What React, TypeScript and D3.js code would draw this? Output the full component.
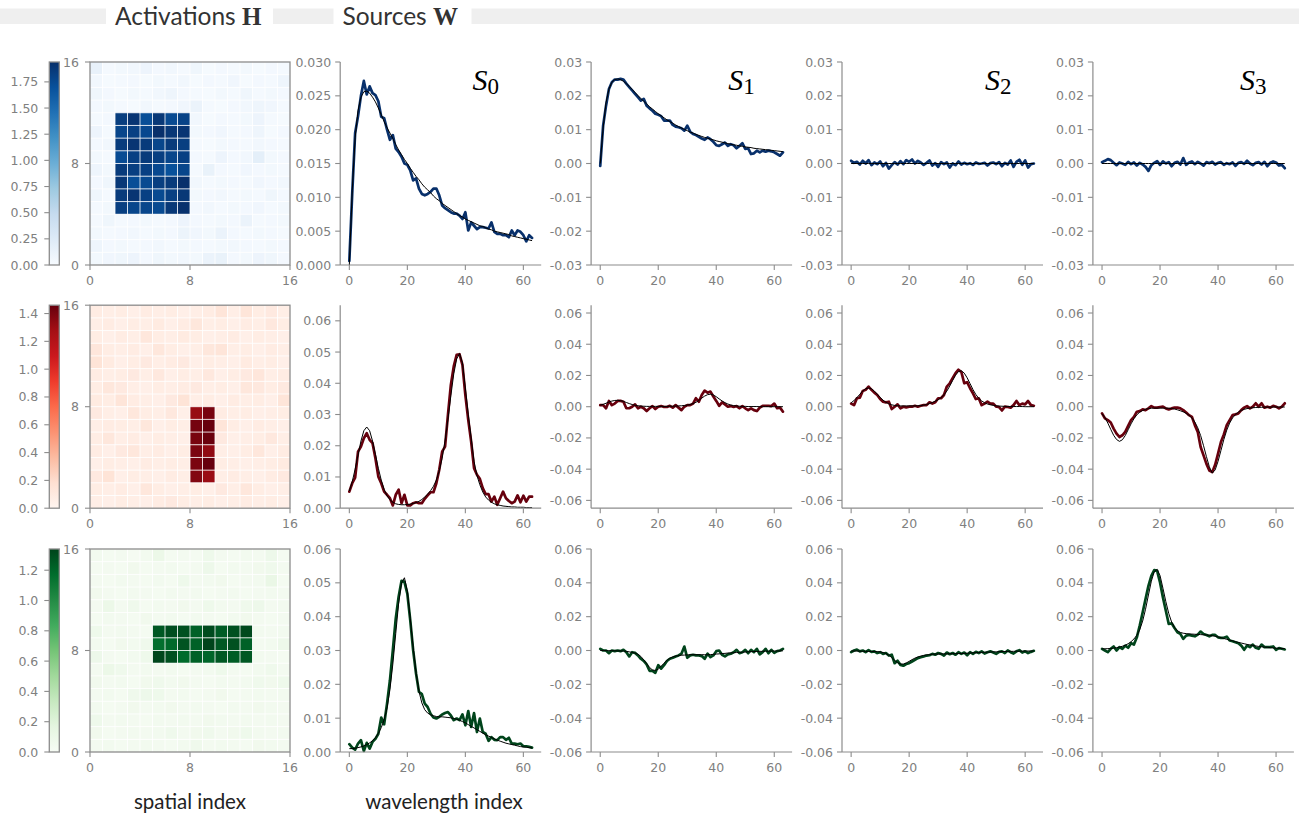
import React from "react";
import * as d3 from "d3";

// ---------------- DATA ----------------
const N = 64;
const IDX = d3.range(N);
const X_TICKS = [0, 20, 40, 60];
const HEAT_TICKS = [0, 8, 16];
const PANEL_NAMES = ["0", "1", "2", "3"];

const ZERO64 = [
  0, 0, 0, 0, 0, 0, 0, 0, 0, 0, 0, 0, 0, 0, 0, 0,
  0, 0, 0, 0, 0, 0, 0, 0, 0, 0, 0, 0, 0, 0, 0, 0,
  0, 0, 0, 0, 0, 0, 0, 0, 0, 0, 0, 0, 0, 0, 0, 0,
  0, 0, 0, 0, 0, 0, 0, 0, 0, 0, 0, 0, 0, 0, 0, 0,
];

// Row 1 (blue)
const BLUE_EST_S0 = [
  0.0006, 0.0106, 0.0195, 0.0220, 0.0250, 0.0272, 0.0252, 0.0264,
  0.0254, 0.0251, 0.0242, 0.0219, 0.0217, 0.0200, 0.0185, 0.0192,
  0.0172, 0.0167, 0.0160, 0.0150, 0.0148, 0.0140, 0.0125, 0.0128,
  0.0113, 0.0105, 0.0103, 0.0105, 0.0108, 0.0113, 0.0113, 0.0103,
  0.0088, 0.0084, 0.0081, 0.0078, 0.0076, 0.0076, 0.0073, 0.0068,
  0.0078, 0.0051, 0.0063, 0.0058, 0.0053, 0.0056, 0.0056, 0.0055,
  0.0054, 0.0063, 0.0049, 0.0046, 0.0046, 0.0044, 0.0044, 0.0041,
  0.0051, 0.0044, 0.0051, 0.0049, 0.0044, 0.0035, 0.0044, 0.0040,
];
const BLUE_TRUE_S0 = [
  0.0000, 0.0110, 0.0188, 0.0228, 0.0248, 0.0256, 0.0257, 0.0254,
  0.0248, 0.0241, 0.0232, 0.0222, 0.0212, 0.0203, 0.0195, 0.0187,
  0.0178, 0.0170, 0.0163, 0.0156, 0.0150, 0.0143, 0.0137, 0.0131,
  0.0126, 0.0120, 0.0115, 0.0111, 0.0107, 0.0102, 0.0098, 0.0095,
  0.0091, 0.0088, 0.0085, 0.0082, 0.0079, 0.0076, 0.0073, 0.0071,
  0.0068, 0.0066, 0.0064, 0.0062, 0.0060, 0.0058, 0.0057, 0.0055,
  0.0053, 0.0052, 0.0050, 0.0049, 0.0048, 0.0047, 0.0046, 0.0045,
  0.0043, 0.0042, 0.0041, 0.0040, 0.0039, 0.0038, 0.0037, 0.0036,
];
const BLUE_EST_S1 = [
  -0.0007, 0.0112, 0.0171, 0.0220, 0.0240, 0.0248, 0.0248, 0.0250,
  0.0248, 0.0236, 0.0226, 0.0216, 0.0206, 0.0196, 0.0186, 0.0191,
  0.0171, 0.0163, 0.0156, 0.0147, 0.0144, 0.0140, 0.0127, 0.0127,
  0.0127, 0.0114, 0.0109, 0.0107, 0.0104, 0.0097, 0.0112, 0.0094,
  0.0087, 0.0084, 0.0079, 0.0074, 0.0070, 0.0077, 0.0072, 0.0064,
  0.0054, 0.0052, 0.0057, 0.0062, 0.0052, 0.0057, 0.0054, 0.0045,
  0.0052, 0.0060, 0.0043, 0.0045, 0.0028, 0.0030, 0.0038, 0.0033,
  0.0038, 0.0035, 0.0038, 0.0036, 0.0033, 0.0028, 0.0023, 0.0033,
];
const BLUE_TRUE_S1 = [
  0.0000, 0.0105, 0.0180, 0.0220, 0.0240, 0.0248, 0.0250, 0.0248,
  0.0243, 0.0236, 0.0228, 0.0219, 0.0210, 0.0201, 0.0192, 0.0184,
  0.0176, 0.0168, 0.0161, 0.0154, 0.0147, 0.0141, 0.0135, 0.0129,
  0.0124, 0.0119, 0.0114, 0.0109, 0.0105, 0.0101, 0.0097, 0.0093,
  0.0090, 0.0086, 0.0083, 0.0080, 0.0077, 0.0075, 0.0072, 0.0070,
  0.0067, 0.0065, 0.0063, 0.0061, 0.0059, 0.0057, 0.0055, 0.0054,
  0.0052, 0.0051, 0.0049, 0.0048, 0.0047, 0.0045, 0.0044, 0.0043,
  0.0042, 0.0041, 0.0040, 0.0039, 0.0038, 0.0037, 0.0036, 0.0035,
];
const BLUE_EST_S2 = [
  0.0008, 0.0002, 0.0005, -0.0003, 0.0008, 0.0000, 0.0010, -0.0005,
  0.0003, -0.0002, 0.0006, -0.0008, 0.0002, -0.0015, -0.0005, 0.0004,
  -0.0003, 0.0007, -0.0002, 0.0010, 0.0005, 0.0012, 0.0000, 0.0008,
  0.0003, -0.0004, 0.0002, 0.0009, -0.0006, 0.0001, -0.0010, 0.0004,
  -0.0002, 0.0003, -0.0012, 0.0000, -0.0005, 0.0006, -0.0003, 0.0002,
  -0.0002, 0.0001, -0.0004, 0.0003, -0.0001, 0.0000, 0.0002, -0.0006,
  0.0001, 0.0003, -0.0002, 0.0004, -0.0008, 0.0002, -0.0003, 0.0009,
  -0.0010, 0.0005, 0.0011, -0.0004, 0.0009, -0.0012, -0.0002, 0.0000,
];
const BLUE_EST_S3 = [
  0.0004, 0.0008, 0.0013, 0.0010, 0.0002, -0.0005, 0.0003, 0.0000,
  -0.0004, 0.0005, -0.0002, 0.0003, -0.0006, 0.0002, -0.0003, -0.0010,
  -0.0022, -0.0005, 0.0002, 0.0007, -0.0004, 0.0006, 0.0000, 0.0004,
  -0.0008, 0.0002, 0.0005, -0.0003, 0.0016, -0.0004, 0.0003, 0.0006,
  -0.0002, 0.0005, 0.0000, -0.0006, 0.0004, 0.0001, 0.0005, -0.0003,
  0.0002, 0.0004, -0.0004, 0.0001, -0.0002, 0.0003, -0.0007, 0.0002,
  0.0004, -0.0001, 0.0008, 0.0000, -0.0005, 0.0002, 0.0004, -0.0003,
  0.0005, -0.0008, 0.0002, 0.0006, 0.0003, -0.0006, -0.0004, -0.0014,
];

// Row 2 (red)
const RED_EST_S0 = [
  0.0053, 0.0080, 0.0098, 0.0181, 0.0197, 0.0224, 0.0240, 0.0219,
  0.0208, 0.0160, 0.0101, 0.0080, 0.0053, 0.0043, 0.0032, 0.0009,
  0.0043, 0.0059, 0.0016, 0.0043, 0.0009, 0.0009, 0.0016, 0.0019,
  0.0016, 0.0016, 0.0030, 0.0041, 0.0051, 0.0051, 0.0080, 0.0123,
  0.0181, 0.0197, 0.0299, 0.0395, 0.0454, 0.0491, 0.0493, 0.0459,
  0.0363, 0.0283, 0.0213, 0.0128, 0.0107, 0.0094, 0.0064, 0.0045,
  0.0045, 0.0021, 0.0037, 0.0011, 0.0032, 0.0053, 0.0032, 0.0023,
  0.0016, 0.0021, 0.0041, 0.0019, 0.0040, 0.0021, 0.0037, 0.0037,
];
const RED_TRUE_S0 = [
  0.0055, 0.0085, 0.0125, 0.0170, 0.0215, 0.0248, 0.0260, 0.0248,
  0.0215, 0.0172, 0.0128, 0.0090, 0.0060, 0.0040, 0.0027, 0.0019,
  0.0014, 0.0012, 0.0011, 0.0011, 0.0012, 0.0013, 0.0015, 0.0018,
  0.0022, 0.0028, 0.0036, 0.0045, 0.0056, 0.0070, 0.0090, 0.0120,
  0.0160, 0.0215, 0.0285, 0.0360, 0.0430, 0.0478, 0.0495, 0.0465,
  0.0385, 0.0300, 0.0225, 0.0150, 0.0105, 0.0075, 0.0052, 0.0036,
  0.0026, 0.0019, 0.0014, 0.0011, 0.0009, 0.0007, 0.0006, 0.0005,
  0.0004, 0.0004, 0.0003, 0.0003, 0.0003, 0.0002, 0.0002, 0.0002,
];
const RED_EST_S1 = [
  0.0010, 0.0010, -0.0010, 0.0037, 0.0010, 0.0020, 0.0037, 0.0037,
  0.0032, -0.0010, -0.0010, 0.0000, 0.0015, -0.0010, 0.0000, -0.0010,
  -0.0028, -0.0010, 0.0004, -0.0015, 0.0000, 0.0004, -0.0002, -0.0002,
  0.0006, -0.0006, 0.0010, -0.0006, -0.0022, 0.0000, 0.0010, 0.0010,
  0.0020, 0.0054, 0.0032, 0.0075, 0.0103, 0.0090, 0.0097, 0.0065,
  0.0037, 0.0006, 0.0028, 0.0015, 0.0000, 0.0004, -0.0002, 0.0004,
  -0.0010, 0.0004, -0.0010, -0.0022, -0.0010, -0.0022, -0.0028, -0.0006,
  0.0006, 0.0006, 0.0006, 0.0004, 0.0020, -0.0010, -0.0006, -0.0032,
];
const RED_TRUE_S1 = [
  0.0010, 0.0015, 0.0022, 0.0030, 0.0036, 0.0040, 0.0041, 0.0039,
  0.0034, 0.0027, 0.0020, 0.0014, 0.0009, 0.0006, 0.0004, 0.0003,
  0.0002, 0.0002, 0.0002, 0.0002, 0.0002, 0.0002, 0.0002, 0.0002,
  0.0003, 0.0003, 0.0004, 0.0005, 0.0006, 0.0008, 0.0010, 0.0014,
  0.0020, 0.0028, 0.0040, 0.0055, 0.0068, 0.0077, 0.0080, 0.0075,
  0.0064, 0.0050, 0.0037, 0.0026, 0.0017, 0.0011, 0.0007, 0.0005,
  0.0003, 0.0002, 0.0002, 0.0001, 0.0001, 0.0001, 0.0001, 0.0000,
  0.0000, 0.0000, 0.0000, 0.0000, 0.0000, 0.0000, 0.0000, 0.0000,
];
const RED_EST_S2 = [
  0.0020, 0.0010, 0.0054, 0.0058, 0.0101, 0.0108, 0.0129, 0.0108,
  0.0090, 0.0075, 0.0049, 0.0032, 0.0028, 0.0032, -0.0015, 0.0000,
  0.0015, -0.0010, 0.0000, -0.0004, 0.0000, 0.0000, 0.0006, 0.0000,
  0.0006, 0.0010, 0.0010, 0.0028, 0.0020, 0.0028, 0.0054, 0.0054,
  0.0075, 0.0129, 0.0150, 0.0183, 0.0215, 0.0237, 0.0222, 0.0150,
  0.0157, 0.0118, 0.0086, 0.0049, 0.0054, 0.0010, 0.0020, 0.0032,
  0.0020, 0.0020, 0.0000, -0.0002, -0.0024, 0.0000, -0.0002, -0.0006,
  0.0010, 0.0037, 0.0010, 0.0020, 0.0015, 0.0037, 0.0010, 0.0006,
];
const RED_TRUE_S2 = [
  0.0025, 0.0040, 0.0058, 0.0080, 0.0100, 0.0115, 0.0120, 0.0115,
  0.0100, 0.0080, 0.0060, 0.0042, 0.0028, 0.0018, 0.0012, 0.0008,
  0.0006, 0.0005, 0.0005, 0.0005, 0.0005, 0.0005, 0.0005, 0.0006,
  0.0007, 0.0010, 0.0014, 0.0020, 0.0027, 0.0035, 0.0045, 0.0058,
  0.0076, 0.0100, 0.0132, 0.0168, 0.0202, 0.0225, 0.0230, 0.0215,
  0.0185, 0.0148, 0.0110, 0.0078, 0.0054, 0.0037, 0.0025, 0.0017,
  0.0012, 0.0008, 0.0006, 0.0004, 0.0003, 0.0002, 0.0002, 0.0001,
  0.0001, 0.0001, 0.0001, 0.0001, 0.0000, 0.0000, 0.0000, 0.0000,
];
const RED_EST_S3 = [
  -0.0043, -0.0075, -0.0086, -0.0101, -0.0140, -0.0172, -0.0194, -0.0183,
  -0.0161, -0.0123, -0.0086, -0.0065, -0.0032, -0.0028, -0.0017, -0.0022,
  -0.0011, 0.0004, -0.0006, -0.0006, -0.0002, 0.0000, -0.0011, -0.0017,
  -0.0011, -0.0006, -0.0006, -0.0011, -0.0022, -0.0037, -0.0054, -0.0065,
  -0.0118, -0.0161, -0.0258, -0.0312, -0.0366, -0.0409, -0.0419, -0.0372,
  -0.0301, -0.0226, -0.0178, -0.0118, -0.0086, -0.0054, -0.0049, -0.0043,
  -0.0022, -0.0006, 0.0004, -0.0011, 0.0000, 0.0022, 0.0000, 0.0022,
  -0.0006, 0.0000, -0.0006, 0.0006, 0.0000, -0.0011, 0.0000, 0.0022,
];
const RED_TRUE_S3 = [
  -0.0045, -0.0070, -0.0105, -0.0145, -0.0183, -0.0210, -0.0222, -0.0212,
  -0.0185, -0.0148, -0.0110, -0.0077, -0.0052, -0.0035, -0.0024, -0.0017,
  -0.0012, -0.0010, -0.0009, -0.0009, -0.0009, -0.0009, -0.0009, -0.0010,
  -0.0012, -0.0015, -0.0020, -0.0026, -0.0033, -0.0042, -0.0055, -0.0072,
  -0.0098, -0.0135, -0.0185, -0.0250, -0.0320, -0.0385, -0.0425, -0.0405,
  -0.0350, -0.0280, -0.0210, -0.0150, -0.0105, -0.0072, -0.0050, -0.0035,
  -0.0024, -0.0017, -0.0012, -0.0009, -0.0007, -0.0005, -0.0004, -0.0004,
  -0.0003, -0.0003, -0.0003, -0.0002, -0.0002, -0.0002, -0.0002, -0.0002,
];

// Row 3 (green)
const GREEN_EST_S0 = [
  0.0023, 0.0013, 0.0007, 0.0025, 0.0035, 0.0003, 0.0027, 0.0010,
  0.0030, 0.0039, 0.0054, 0.0102, 0.0082, 0.0143, 0.0212, 0.0301,
  0.0394, 0.0459, 0.0506, 0.0503, 0.0468, 0.0390, 0.0301, 0.0232,
  0.0178, 0.0171, 0.0143, 0.0133, 0.0113, 0.0102, 0.0099, 0.0104,
  0.0111, 0.0115, 0.0118, 0.0108, 0.0094, 0.0099, 0.0094, 0.0111,
  0.0079, 0.0121, 0.0074, 0.0115, 0.0059, 0.0099, 0.0059, 0.0054,
  0.0033, 0.0044, 0.0036, 0.0035, 0.0044, 0.0044, 0.0036, 0.0042,
  0.0025, 0.0025, 0.0023, 0.0025, 0.0017, 0.0017, 0.0015, 0.0013,
];
const GREEN_TRUE_S0 = [
  0.0010, 0.0010, 0.0011, 0.0013, 0.0015, 0.0018, 0.0022, 0.0027,
  0.0033, 0.0042, 0.0055, 0.0072, 0.0095, 0.0130, 0.0185, 0.0260,
  0.0350, 0.0440, 0.0500, 0.0515, 0.0475, 0.0395, 0.0310, 0.0235,
  0.0180, 0.0145, 0.0125, 0.0115, 0.0110, 0.0107, 0.0105, 0.0104,
  0.0104, 0.0103, 0.0102, 0.0101, 0.0099, 0.0097, 0.0094, 0.0090,
  0.0086, 0.0081, 0.0076, 0.0071, 0.0066, 0.0061, 0.0056, 0.0051,
  0.0047, 0.0043, 0.0039, 0.0035, 0.0032, 0.0029, 0.0026, 0.0024,
  0.0022, 0.0020, 0.0018, 0.0016, 0.0015, 0.0014, 0.0013, 0.0012,
];
const GREEN_EST_S1 = [
  0.0010, 0.0000, 0.0000, -0.0016, 0.0000, -0.0004, 0.0000, -0.0004,
  0.0004, -0.0010, -0.0035, -0.0010, -0.0014, -0.0029, -0.0049, -0.0062,
  -0.0082, -0.0120, -0.0120, -0.0132, -0.0087, -0.0107, -0.0087, -0.0062,
  -0.0049, -0.0043, -0.0035, -0.0029, -0.0019, 0.0023, -0.0043, -0.0029,
  -0.0025, -0.0029, -0.0029, -0.0033, -0.0049, -0.0019, -0.0039, -0.0029,
  -0.0004, 0.0000, -0.0025, -0.0035, -0.0023, -0.0019, -0.0010, 0.0004,
  -0.0016, -0.0010, 0.0004, -0.0016, 0.0004, -0.0010, 0.0010, -0.0023,
  -0.0010, 0.0010, -0.0016, 0.0004, -0.0014, -0.0004, 0.0000, 0.0010,
];
const GREEN_TRUE_S1 = [
  0.0000, 0.0000, -0.0001, -0.0001, -0.0001, -0.0002, -0.0002, -0.0003,
  -0.0003, -0.0005, -0.0008, -0.0011, -0.0015, -0.0022, -0.0035, -0.0055,
  -0.0078, -0.0100, -0.0115, -0.0118, -0.0110, -0.0093, -0.0075, -0.0058,
  -0.0046, -0.0038, -0.0033, -0.0030, -0.0028, -0.0027, -0.0026, -0.0025,
  -0.0025, -0.0025, -0.0025, -0.0025, -0.0025, -0.0025, -0.0024, -0.0023,
  -0.0021, -0.0020, -0.0018, -0.0017, -0.0015, -0.0014, -0.0013, -0.0012,
  -0.0011, -0.0010, -0.0009, -0.0008, -0.0007, -0.0006, -0.0006, -0.0005,
  -0.0005, -0.0004, -0.0004, -0.0003, -0.0003, -0.0003, -0.0002, -0.0002,
];
const GREEN_EST_S2 = [
  -0.0010, 0.0000, 0.0005, -0.0005, 0.0000, -0.0010, 0.0002, -0.0008,
  -0.0005, -0.0015, -0.0010, -0.0020, -0.0015, -0.0030, -0.0025, -0.0075,
  -0.0060, -0.0085, -0.0090, -0.0080, -0.0075, -0.0065, -0.0055, -0.0045,
  -0.0040, -0.0035, -0.0030, -0.0028, -0.0020, -0.0025, -0.0015, -0.0020,
  -0.0030, -0.0012, -0.0022, -0.0015, -0.0025, -0.0010, -0.0020, -0.0012,
  -0.0028, -0.0010, -0.0020, -0.0008, -0.0015, -0.0005, -0.0018, -0.0010,
  -0.0005, -0.0012, -0.0020, -0.0008, -0.0005, -0.0015, 0.0000, -0.0010,
  -0.0018, -0.0005, 0.0002, -0.0012, -0.0005, -0.0015, -0.0008, -0.0002,
];
const GREEN_TRUE_S2 = [
  -0.0003, -0.0003, -0.0003, -0.0004, -0.0004, -0.0005, -0.0005, -0.0006,
  -0.0006, -0.0007, -0.0008, -0.0012, -0.0018, -0.0028, -0.0042, -0.0058,
  -0.0072, -0.0080, -0.0080, -0.0074, -0.0064, -0.0054, -0.0045, -0.0038,
  -0.0033, -0.0029, -0.0026, -0.0024, -0.0022, -0.0021, -0.0021, -0.0020,
  -0.0020, -0.0020, -0.0019, -0.0019, -0.0019, -0.0018, -0.0018, -0.0017,
  -0.0016, -0.0015, -0.0014, -0.0013, -0.0012, -0.0011, -0.0010, -0.0010,
  -0.0009, -0.0008, -0.0008, -0.0007, -0.0006, -0.0006, -0.0005, -0.0005,
  -0.0005, -0.0004, -0.0004, -0.0004, -0.0003, -0.0003, -0.0003, -0.0003,
];
const GREEN_EST_S3 = [
  0.0010, 0.0000, -0.0010, 0.0010, 0.0024, 0.0000, 0.0020, 0.0010,
  0.0029, 0.0016, 0.0043, 0.0035, 0.0078, 0.0147, 0.0225, 0.0304,
  0.0382, 0.0441, 0.0475, 0.0471, 0.0402, 0.0314, 0.0235, 0.0157,
  0.0161, 0.0133, 0.0108, 0.0098, 0.0069, 0.0088, 0.0092, 0.0088,
  0.0084, 0.0094, 0.0112, 0.0098, 0.0092, 0.0084, 0.0092, 0.0092,
  0.0078, 0.0075, 0.0075, 0.0082, 0.0059, 0.0055, 0.0049, 0.0043,
  0.0029, 0.0004, 0.0029, 0.0020, 0.0035, 0.0016, 0.0010, 0.0035,
  0.0020, 0.0020, 0.0020, 0.0024, 0.0004, 0.0014, 0.0010, 0.0006,
];
const GREEN_TRUE_S3 = [
  0.0010, 0.0010, 0.0011, 0.0012, 0.0014, 0.0017, 0.0020, 0.0025,
  0.0031, 0.0040, 0.0052, 0.0068, 0.0090, 0.0123, 0.0174, 0.0244,
  0.0328, 0.0410, 0.0466, 0.0480, 0.0443, 0.0368, 0.0289, 0.0219,
  0.0168, 0.0135, 0.0117, 0.0107, 0.0102, 0.0100, 0.0098, 0.0097,
  0.0096, 0.0095, 0.0094, 0.0093, 0.0092, 0.0090, 0.0088, 0.0084,
  0.0080, 0.0076, 0.0071, 0.0066, 0.0062, 0.0057, 0.0052, 0.0048,
  0.0044, 0.0040, 0.0036, 0.0033, 0.0030, 0.0027, 0.0024, 0.0022,
  0.0020, 0.0019, 0.0017, 0.0015, 0.0014, 0.0013, 0.0012, 0.0011,
];

// Activation maps (rows listed top -> bottom, i.e. spatial row 15 first)
const H_BLUE = [
  [0.15,0.03,0.05,0.06,0.10,0.04,0.06,0.03,0.08,0.02,0.04,0.03,0.05,0.02,0.04,0.03],
  [0.06,0.02,0.03,0.04,0.02,0.05,0.03,0.06,0.02,0.04,0.03,0.07,0.02,0.04,0.03,0.09],
  [0.08,0.04,0.02,0.05,0.03,0.06,0.09,0.04,0.03,0.02,0.05,0.03,0.08,0.03,0.05,0.04],
  [0.04,0.05,0.03,0.02,0.06,0.03,0.04,0.07,0.12,0.03,0.02,0.04,0.06,0.09,0.07,0.03],
  [0.03,0.04,1.84,1.90,1.72,1.88,1.75,1.80,0.06,0.02,0.04,0.03,0.05,0.10,0.03,0.02],
  [0.10,0.03,1.78,1.82,1.76,1.94,1.88,1.90,0.05,0.04,0.07,0.03,0.04,0.09,0.02,0.04],
  [0.04,0.06,1.85,1.90,1.86,1.78,1.86,1.83,0.03,0.02,0.05,0.04,0.03,0.06,0.04,0.03],
  [0.05,0.03,1.74,1.82,1.86,1.83,1.78,1.82,0.04,0.03,0.10,0.04,0.06,0.18,0.05,0.04],
  [0.09,0.05,1.86,1.83,1.82,1.76,1.70,1.78,0.03,0.14,0.04,0.03,0.07,0.04,0.05,0.03],
  [0.04,0.08,1.88,1.72,1.75,1.83,1.86,1.94,0.06,0.03,0.05,0.04,0.03,0.07,0.04,0.06],
  [0.08,0.03,1.86,1.90,1.82,1.75,1.82,1.88,0.05,0.04,0.06,0.03,0.05,0.03,0.08,0.04],
  [0.03,0.05,1.83,1.78,1.78,1.75,1.88,1.93,0.04,0.06,0.03,0.05,0.04,0.07,0.03,0.05],
  [0.03,0.08,0.03,0.04,0.05,0.03,0.04,0.10,0.04,0.03,0.05,0.04,0.12,0.03,0.04,0.05],
  [0.05,0.03,0.04,0.06,0.03,0.05,0.04,0.11,0.07,0.05,0.12,0.04,0.03,0.05,0.04,0.03],
  [0.09,0.04,0.05,0.03,0.04,0.06,0.03,0.05,0.04,0.03,0.05,0.06,0.04,0.03,0.05,0.04],
  [0.05,0.07,0.08,0.10,0.04,0.08,0.05,0.06,0.05,0.12,0.14,0.04,0.05,0.10,0.08,0.04],
];
const H_RED = [
  [0.08,0.06,0.07,0.05,0.08,0.06,0.07,0.05,0.06,0.08,0.14,0.06,0.14,0.07,0.10,0.06],
  [0.06,0.08,0.05,0.07,0.06,0.09,0.05,0.08,0.12,0.06,0.07,0.05,0.08,0.06,0.11,0.07],
  [0.07,0.05,0.08,0.06,0.12,0.07,0.06,0.09,0.07,0.05,0.06,0.08,0.05,0.07,0.06,0.05],
  [0.13,0.07,0.06,0.08,0.05,0.12,0.07,0.05,0.06,0.12,0.14,0.06,0.07,0.05,0.08,0.06],
  [0.15,0.09,0.05,0.07,0.10,0.06,0.08,0.10,0.05,0.07,0.06,0.05,0.09,0.06,0.07,0.05],
  [0.08,0.06,0.07,0.10,0.06,0.11,0.05,0.07,0.06,0.11,0.05,0.07,0.10,0.13,0.06,0.08],
  [0.07,0.12,0.10,0.06,0.05,0.07,0.06,0.08,0.10,0.06,0.07,0.05,0.12,0.11,0.07,0.10],
  [0.09,0.07,0.14,0.08,0.06,0.05,0.10,0.15,0.06,0.07,0.05,0.08,0.06,0.07,0.05,0.14],
  [0.10,0.06,0.05,0.12,0.07,0.06,0.11,0.05,1.32,1.41,0.08,0.06,0.07,0.05,0.06,0.07],
  [0.06,0.08,0.07,0.06,0.12,0.05,0.07,0.06,1.42,1.46,0.14,0.07,0.05,0.08,0.06,0.05],
  [0.07,0.12,0.06,0.08,0.05,0.07,0.06,0.05,1.41,1.45,0.10,0.05,0.06,0.07,0.11,0.06],
  [0.08,0.05,0.10,0.12,0.06,0.08,0.05,0.07,1.40,1.34,0.06,0.05,0.07,0.12,0.05,0.08],
  [0.05,0.07,0.06,0.05,0.08,0.06,0.07,0.06,1.40,1.46,0.07,0.06,0.05,0.06,0.07,0.09],
  [0.10,0.15,0.05,0.07,0.06,0.05,0.08,0.06,1.38,1.31,0.06,0.08,0.06,0.05,0.08,0.10],
  [0.07,0.06,0.08,0.05,0.12,0.07,0.05,0.06,0.07,0.05,0.10,0.06,0.12,0.07,0.05,0.06],
  [0.06,0.05,0.07,0.06,0.05,0.08,0.10,0.07,0.06,0.07,0.05,0.06,0.08,0.06,0.07,0.05],
];
const H_GREEN = [
  [0.05,0.03,0.04,0.02,0.05,0.10,0.03,0.04,0.03,0.08,0.04,0.03,0.05,0.04,0.09,0.03],
  [0.03,0.04,0.03,0.06,0.03,0.04,0.05,0.03,0.04,0.09,0.03,0.05,0.04,0.06,0.07,0.04],
  [0.04,0.03,0.05,0.04,0.03,0.05,0.03,0.08,0.04,0.05,0.06,0.03,0.04,0.05,0.12,0.03],
  [0.06,0.04,0.03,0.05,0.04,0.03,0.05,0.04,0.05,0.03,0.04,0.05,0.03,0.04,0.05,0.04],
  [0.04,0.10,0.04,0.07,0.03,0.05,0.04,0.06,0.04,0.08,0.05,0.04,0.07,0.09,0.04,0.05],
  [0.03,0.05,0.04,0.03,0.06,0.04,0.05,0.03,0.05,0.04,0.03,0.05,0.06,0.04,0.03,0.04],
  [0.08,0.04,0.05,0.04,0.03,1.26,1.30,1.29,1.22,1.31,1.24,1.29,1.32,0.05,0.04,0.05],
  [0.05,0.03,0.06,0.05,0.07,1.16,1.19,1.28,1.22,1.34,1.26,1.29,1.22,0.04,0.05,0.09],
  [0.09,0.04,0.03,0.05,0.08,1.33,1.29,1.18,1.22,1.20,1.26,1.24,1.26,0.05,0.04,0.03],
  [0.04,0.10,0.07,0.04,0.05,0.04,0.05,0.03,0.04,0.05,0.08,0.04,0.03,0.05,0.07,0.04],
  [0.06,0.04,0.05,0.03,0.06,0.07,0.05,0.06,0.04,0.03,0.05,0.04,0.05,0.07,0.06,0.08],
  [0.04,0.05,0.03,0.07,0.09,0.08,0.04,0.05,0.03,0.04,0.06,0.03,0.04,0.05,0.04,0.05],
  [0.05,0.03,0.04,0.06,0.04,0.05,0.06,0.04,0.05,0.04,0.03,0.05,0.04,0.06,0.05,0.04],
  [0.08,0.04,0.05,0.04,0.03,0.05,0.04,0.05,0.04,0.06,0.05,0.04,0.05,0.04,0.05,0.04],
  [0.06,0.03,0.04,0.05,0.04,0.05,0.07,0.04,0.06,0.07,0.04,0.06,0.08,0.05,0.04,0.05],
  [0.04,0.05,0.03,0.04,0.05,0.04,0.03,0.05,0.07,0.04,0.05,0.04,0.03,0.06,0.05,0.04],
];

// Colorbar ranges and ticks
const CB_MAX = [1.94, 1.46, 1.34];
const CB_TICKS_BLUE = [0, 0.25, 0.5, 0.75, 1.0, 1.25, 1.5, 1.75];
const CB_TICKS_RED = [0, 0.2, 0.4, 0.6, 0.8, 1.0, 1.2, 1.4];
const CB_TICKS_GREEN = [0, 0.2, 0.4, 0.6, 0.8, 1.0, 1.2];

// y axis ranges / ticks per row: [S0, others]
const Y_DOM_R1 = [[0, 0.03], [-0.03, 0.03]];
const Y_DOM_R2 = [[0, 0.065], [-0.065, 0.065]];
const Y_DOM_R3 = [[0, 0.06], [-0.06, 0.06]];
const Y_TICKS_R1_S0 = [0, 0.005, 0.01, 0.015, 0.02, 0.025, 0.03];
const Y_TICKS_R1 = [-0.03, -0.02, -0.01, 0, 0.01, 0.02, 0.03];
const Y_TICKS_R23_S0 = [0, 0.01, 0.02, 0.03, 0.04, 0.05, 0.06];
const Y_TICKS_R23 = [-0.06, -0.04, -0.02, 0, 0.02, 0.04, 0.06];

// ---------------- STYLE / LAYOUT ----------------
const W = 1299;
const H = 817;
const TICK_FONT = "'DejaVu Sans', 'Bitstream Vera Sans', sans-serif";
const LABEL_FONT = "Lato, 'Open Sans', 'DejaVu Sans', sans-serif";
const SERIF = "'Liberation Serif', 'DejaVu Serif', serif";
const AXIS_COLOR = "#8c8c8c";
const TICK_TEXT = "#808080";
const TICK_FS = 12.5;
const ROW_TOP = [62, 305.2, 549];
const ROW_H = 203;
const PANEL_LEFT = [340.2, 591.1, 842.0, 1092.9];
const PANEL_W = 201;
const HEAT_X0 = 90;
const HEAT_X1 = 290;
const CB_X0 = 49.3;
const CB_X1 = 59.3;
const S_LABEL_X = [472.5, 728.3, 985, 1240];

const fmt = (d: number, n: number) => (Math.abs(d) < 1e-12 ? 0 : d).toFixed(n);

// piecewise-linear colour map through the 9 ColorBrewer stops (as matplotlib does)
const makeCmap = (scheme: readonly string[]) => {
  const s = d3
    .scaleLinear<string>()
    .domain(d3.range(scheme.length).map((i) => i / (scheme.length - 1)))
    .range(scheme as string[])
    .interpolate(d3.interpolateRgb)
    .clamp(true);
  return (t: number) => s(t);
};
const CMAP_BLUE = makeCmap(d3.schemeBlues[9]);
const CMAP_RED = makeCmap(d3.schemeReds[9]);
const CMAP_GREEN = makeCmap(d3.schemeGreens[9]);

type RowSpec = {
  color: string;
  interp: (t: number) => string;
  heat: number[][];
  vmax: number;
  cbTicks: number[];
  cbDec: number;
  est: number[][];
  tru: number[][];
  yDom: number[][];
  yTicks: number[][];
  yDec: number[];
};

const ROWS: RowSpec[] = [
  {
    color: "#08306b",
    interp: CMAP_BLUE,
    heat: H_BLUE,
    vmax: CB_MAX[0],
    cbTicks: CB_TICKS_BLUE,
    cbDec: 2,
    est: [BLUE_EST_S0, BLUE_EST_S1, BLUE_EST_S2, BLUE_EST_S3],
    tru: [BLUE_TRUE_S0, BLUE_TRUE_S1, ZERO64, ZERO64],
    yDom: [Y_DOM_R1[0], Y_DOM_R1[1], Y_DOM_R1[1], Y_DOM_R1[1]],
    yTicks: [Y_TICKS_R1_S0, Y_TICKS_R1, Y_TICKS_R1, Y_TICKS_R1],
    yDec: [3, 2, 2, 2],
  },
  {
    color: "#67000d",
    interp: CMAP_RED,
    heat: H_RED,
    vmax: CB_MAX[1],
    cbTicks: CB_TICKS_RED,
    cbDec: 1,
    est: [RED_EST_S0, RED_EST_S1, RED_EST_S2, RED_EST_S3],
    tru: [RED_TRUE_S0, RED_TRUE_S1, RED_TRUE_S2, RED_TRUE_S3],
    yDom: [Y_DOM_R2[0], Y_DOM_R2[1], Y_DOM_R2[1], Y_DOM_R2[1]],
    yTicks: [Y_TICKS_R23_S0, Y_TICKS_R23, Y_TICKS_R23, Y_TICKS_R23],
    yDec: [2, 2, 2, 2],
  },
  {
    color: "#00441b",
    interp: CMAP_GREEN,
    heat: H_GREEN,
    vmax: CB_MAX[2],
    cbTicks: CB_TICKS_GREEN,
    cbDec: 1,
    est: [GREEN_EST_S0, GREEN_EST_S1, GREEN_EST_S2, GREEN_EST_S3],
    tru: [GREEN_TRUE_S0, GREEN_TRUE_S1, GREEN_TRUE_S2, GREEN_TRUE_S3],
    yDom: [Y_DOM_R3[0], Y_DOM_R3[1], Y_DOM_R3[1], Y_DOM_R3[1]],
    yTicks: [Y_TICKS_R23_S0, Y_TICKS_R23, Y_TICKS_R23, Y_TICKS_R23],
    yDec: [2, 2, 2, 2],
  },
];

// ---------------- COMPONENTS ----------------
function LinePanel(props: {
  x0: number; y0: number; est: number[]; tru: number[]; color: string;
  yDom: number[]; yTicks: number[]; yDec: number;
}) {
  const { x0, y0, est, tru, color, yDom, yTicks, yDec } = props;
  const xs = d3.scaleLinear().domain([-3.15, 66.15]).range([x0, x0 + PANEL_W]);
  const ys = d3.scaleLinear().domain(yDom).range([y0 + ROW_H, y0]);
  const line = d3
    .line<number>()
    .x((_, i) => xs(IDX[i]))
    .y((d) => ys(d));
  const yb = y0 + ROW_H;
  return (
    <g>
      <path d={line(est) || ""} fill="none" stroke={color} strokeWidth={2.7} strokeLinejoin="round" strokeLinecap="round" />
      <path d={line(tru) || ""} fill="none" stroke="#000" strokeWidth={1} strokeLinejoin="round" />
      <line x1={x0} x2={x0} y1={y0} y2={yb} stroke={AXIS_COLOR} strokeWidth={1.2} />
      <line x1={x0} x2={x0 + PANEL_W} y1={yb} y2={yb} stroke={AXIS_COLOR} strokeWidth={1.2} />
      {yTicks.map((t) => (
        <g key={"y" + t}>
          <line x1={x0 - 5} x2={x0} y1={ys(t)} y2={ys(t)} stroke={AXIS_COLOR} strokeWidth={1.1} />
          <text x={x0 - 9} y={ys(t)} dy="0.36em" textAnchor="end" fontFamily={TICK_FONT} fontSize={TICK_FS} fill={TICK_TEXT}>
            {fmt(t, yDec)}
          </text>
        </g>
      ))}
      {X_TICKS.map((t) => (
        <g key={"x" + t}>
          <line x1={xs(t)} x2={xs(t)} y1={yb} y2={yb + 5} stroke={AXIS_COLOR} strokeWidth={1.1} />
          <text x={xs(t)} y={yb + 20} textAnchor="middle" fontFamily={TICK_FONT} fontSize={TICK_FS} fill={TICK_TEXT}>
            {t}
          </text>
        </g>
      ))}
    </g>
  );
}

function HeatPanel(props: { y0: number; row: RowSpec; r: number }) {
  const { y0, row, r } = props;
  const xs = d3.scaleLinear().domain([0, 16]).range([HEAT_X0, HEAT_X1]);
  const ys = d3.scaleLinear().domain([0, 16]).range([y0 + ROW_H, y0]);
  const tScale = d3.scaleLinear().domain([0, row.vmax]).range([0, 1]).clamp(true);
  const cb = d3.scaleLinear().domain([0, row.vmax]).range([y0 + ROW_H, y0]);
  const gid = "cbgrad" + r;
  const stops = d3.range(0, 1.0001, 0.125);
  const yb = y0 + ROW_H;
  return (
    <g>
      <defs>
        <linearGradient id={gid} x1="0" y1="1" x2="0" y2="0">
          {stops.map((t) => (
            <stop key={t} offset={t} stopColor={row.interp(t)} />
          ))}
        </linearGradient>
      </defs>
      {row.heat.map((rowVals, i) =>
        rowVals.map((v, j) => {
          const yi = 15 - i;
          return (
            <rect
              key={i + "-" + j}
              x={xs(j)}
              y={ys(yi + 1)}
              width={xs(j + 1) - xs(j)}
              height={ys(yi) - ys(yi + 1)}
              fill={row.interp(tScale(v))}
            />
          );
        })
      )}
      {d3.range(1, 16).map((k) => (
        <g key={"g" + k}>
          <line x1={xs(k)} x2={xs(k)} y1={y0} y2={yb} stroke="#fff" strokeWidth={0.8} />
          <line x1={HEAT_X0} x2={HEAT_X1} y1={ys(k)} y2={ys(k)} stroke="#fff" strokeWidth={0.8} />
        </g>
      ))}
      <rect x={HEAT_X0} y={y0} width={HEAT_X1 - HEAT_X0} height={ROW_H} fill="none" stroke={AXIS_COLOR} strokeWidth={1.3} />
      {HEAT_TICKS.map((t) => (
        <g key={"hy" + t}>
          <line x1={HEAT_X0 - 5} x2={HEAT_X0} y1={ys(t)} y2={ys(t)} stroke={AXIS_COLOR} strokeWidth={1.1} />
          <text x={HEAT_X0 - 11} y={ys(t)} dy="0.36em" textAnchor="end" fontFamily={TICK_FONT} fontSize={TICK_FS} fill={TICK_TEXT}>
            {t}
          </text>
          <line x1={xs(t)} x2={xs(t)} y1={yb} y2={yb + 5} stroke={AXIS_COLOR} strokeWidth={1.1} />
          <text x={xs(t)} y={yb + 20} textAnchor="middle" fontFamily={TICK_FONT} fontSize={TICK_FS} fill={TICK_TEXT}>
            {t}
          </text>
        </g>
      ))}
      <rect x={CB_X0} y={y0} width={CB_X1 - CB_X0} height={ROW_H} fill={`url(#${gid})`} stroke={AXIS_COLOR} strokeWidth={1.3} />
      {row.cbTicks.map((t) => (
        <g key={"cb" + t}>
          <line x1={CB_X0 - 5} x2={CB_X0} y1={cb(t)} y2={cb(t)} stroke={AXIS_COLOR} strokeWidth={1.1} />
          <text x={CB_X0 - 11} y={cb(t)} dy="0.36em" textAnchor="end" fontFamily={TICK_FONT} fontSize={TICK_FS} fill={TICK_TEXT}>
            {fmt(t, row.cbDec)}
          </text>
        </g>
      ))}
    </g>
  );
}

export default function App() {
  return (
    <svg
      width={W}
      height={H}
      viewBox={`0 0 ${W} ${H}`}
      style={{ position: "absolute", left: 0, top: 0, background: "#fff" }}
    >
      <rect x={0} y={0} width={W} height={H} fill="#fff" />
      {/* header bars */}
      <rect x={0} y={8.5} width={106} height={15.5} fill="#efefef" />
      <rect x={273} y={8.5} width={60.5} height={15.5} fill="#efefef" />
      <rect x={471.5} y={8.5} width={W - 471.5} height={15.5} fill="#efefef" />
      <text x={115} y={25} fontFamily={LABEL_FONT} fontSize={24.5} fill="#333">
        Activations{" "}
        <tspan fontFamily={SERIF} fontWeight="bold" fontSize={25}>H</tspan>
      </text>
      <text x={342.5} y={25} fontFamily={LABEL_FONT} fontSize={24.5} fill="#333">
        Sources{" "}
        <tspan fontFamily={SERIF} fontWeight="bold" fontSize={25}>W</tspan>
      </text>

      {ROWS.map((row, r) => (
        <g key={r}>
          <HeatPanel y0={ROW_TOP[r]} row={row} r={r} />
          {PANEL_LEFT.map((x0, k) => (
            <LinePanel
              key={k}
              x0={x0}
              y0={ROW_TOP[r]}
              est={row.est[k]}
              tru={row.tru[k]}
              color={row.color}
              yDom={row.yDom[k]}
              yTicks={row.yTicks[k]}
              yDec={row.yDec[k]}
            />
          ))}
        </g>
      ))}

      {PANEL_NAMES.map((n, k) => (
        <text key={n} x={S_LABEL_X[k]} y={ROW_TOP[0] + 27.5} fontFamily={SERIF} fill="#000">
          <tspan fontStyle="italic" fontSize={30}>S</tspan>
          <tspan fontSize={23} dy={4.5}>{n}</tspan>
        </text>
      ))}

      <text x={190} y={809} textAnchor="middle" fontFamily={LABEL_FONT} fontSize={20.5} fill="#222">
        spatial index
      </text>
      <text x={444} y={809} textAnchor="middle" fontFamily={LABEL_FONT} fontSize={20.5} fill="#222">
        wavelength index
      </text>
    </svg>
  );
}
